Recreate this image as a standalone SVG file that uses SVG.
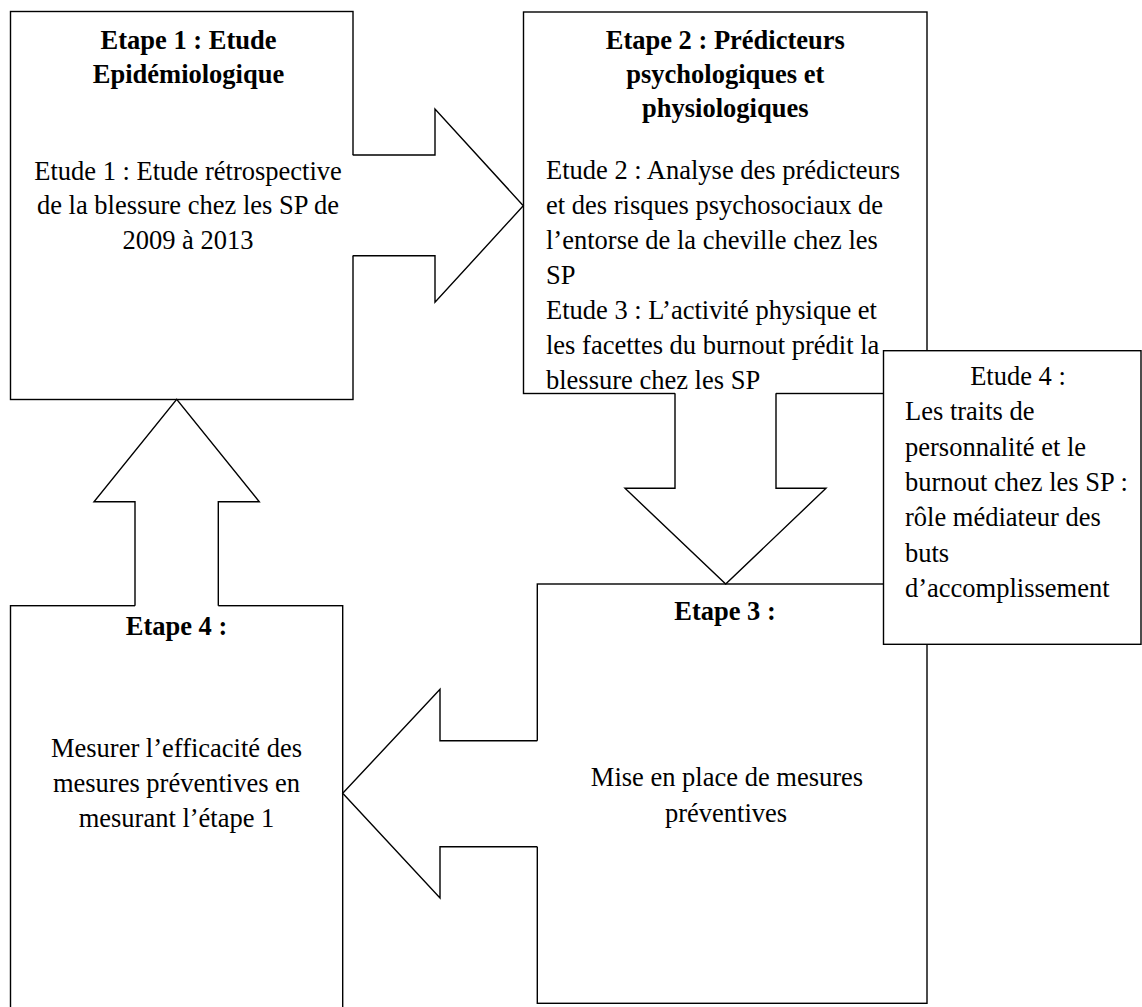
<svg xmlns="http://www.w3.org/2000/svg" width="1142" height="1007" viewBox="0 0 1142 1007">
<style>
.box{fill:#fff;stroke:#000;stroke-width:1.4}
.arrow-fill{fill:#fff;stroke:none}
.arrow-line{fill:none;stroke:#000;stroke-width:1.4;stroke-linejoin:miter}
text{font-family:"Liberation Serif","Times New Roman",serif;font-size:26.5px;fill:#000}
.b{font-weight:bold}
.c{text-anchor:middle}
</style>
<rect width="1142" height="1007" fill="#fff"/>
<g id="etape1">
<rect class="box" x="10.5" y="11.5" width="342.5" height="388"/>
<text class="b c" x="188.5" y="48.5">Etape 1 : Etude</text>
<text class="b c" x="188.5" y="82.5">Epidémiologique</text>
<text class="c" x="188" y="179.5">Etude 1 : Etude rétrospective</text>
<text class="c" x="188" y="214">de la blessure chez les SP de</text>
<text class="c" x="188" y="248.5">2009 à 2013</text>
</g>
<g id="etape2">
<rect class="box" x="523.5" y="12" width="403.5" height="381.5"/>
<text class="b c" x="725.3" y="49.3">Etape 2 : Prédicteurs</text>
<text class="b c" x="725.3" y="82.8">psychologiques et</text>
<text class="b c" x="725.3" y="116.7">physiologiques</text>
<text x="546" y="179.3">Etude 2 : Analyse des prédicteurs</text>
<text x="546" y="214.3">et des risques psychosociaux de</text>
<text x="546" y="249.3">l’entorse de la cheville chez les</text>
<text x="546" y="284.3">SP</text>
<text x="546" y="319.3">Etude 3 : L’activité physique et</text>
<text x="546" y="354.3">les facettes du burnout prédit la</text>
<text x="546" y="389.3">blessure chez les SP</text>
</g>
<g id="etape3">
<rect class="box" x="537.3" y="584" width="389.7" height="419.3"/>
<text class="b c" x="725" y="620">Etape 3 :</text>
<text class="c" x="727" y="786">Mise en place de mesures</text>
<text class="c" x="726" y="821.5">préventives</text>
</g>
<g id="etape4">
<rect class="box" x="10.5" y="605.7" width="332.2" height="410"/>
<text class="b c" x="176.5" y="635">Etape 4 :</text>
<text class="c" x="176.5" y="757">Mesurer l’efficacité des</text>
<text class="c" x="176.5" y="792">mesures préventives en</text>
<text class="c" x="176.5" y="827">mesurant l’étape 1</text>
</g>
<g id="connectors">
<g id="arrow-1-2">
<polygon class="arrow-fill" points="351,155 435,155 435,109 523.3,205.7 435,302.3 435,255.7 351,255.7"/>
<polyline class="arrow-line" points="352.7,155 435,155 435,109 523.3,205.7 435,302.3 435,255.7 352.7,255.7"/>
</g>
<g id="arrow-2-3">
<polygon class="arrow-fill" points="675,392 675,488.3 625,488.3 725.7,584 826,488.3 776,488.3 776,392"/>
<polyline class="arrow-line" points="675,393.3 675,488.3 625,488.3 725.7,584 826,488.3 776,488.3 776,393.3"/>
</g>
<g id="arrow-3-4">
<polygon class="arrow-fill" points="539,740.7 440,740.7 440,689.3 342.7,793.3 440,898 440,846.7 539,846.7"/>
<polyline class="arrow-line" points="537.3,740.7 440,740.7 440,689.3 342.7,793.3 440,898 440,846.7 537.3,846.7"/>
</g>
<g id="arrow-4-1">
<polygon class="arrow-fill" points="135,607.5 135,501.7 94,501.7 176.7,399.3 259.3,501.7 218.3,501.7 218.3,607.5"/>
<polyline class="arrow-line" points="135,605.7 135,501.7 94,501.7 176.7,399.3 259.3,501.7 218.3,501.7 218.3,605.7"/>
</g>
</g>
<g id="etude4">
<rect class="box" x="883.5" y="350.7" width="257.5" height="293.6"/>
<text class="c" x="1018" y="385">Etude 4 :</text>
<text x="905" y="420.3">Les traits de</text>
<text x="905" y="455.6">personnalité et le</text>
<text x="905" y="490.9">burnout chez les SP :</text>
<text x="905" y="526.2">rôle médiateur des</text>
<text x="905" y="561.5">buts</text>
<text x="905" y="596.8">d’accomplissement</text>
</g>
</svg>
